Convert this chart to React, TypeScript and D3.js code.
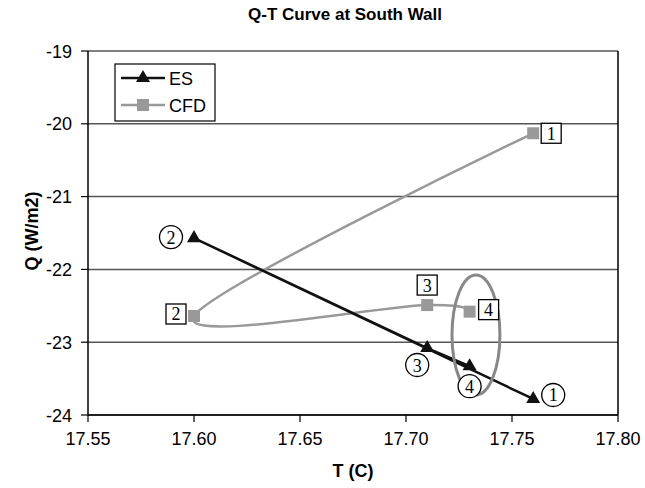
import React from "react";
import * as d3 from "d3";

const pointIds = ["1", "2", "3", "4"];
const esT = [17.76, 17.6, 17.71, 17.73];
const esQ = [-23.78, -21.57, -23.08, -23.33];
const cfdT = [17.76, 17.6, 17.71, 17.73];
const cfdQ = [-20.13, -22.64, -22.49, -22.58];
const xTicks = [17.55, 17.6, 17.65, 17.7, 17.75, 17.8];
const yTicks = [-19, -20, -21, -22, -23, -24];
// annotation ellipse in data units: centre T, centre Q, half-width T, half-height Q
const ellipseT = [17.733, 0.0113];
const ellipseQ = [-22.9, 0.824];

// label offsets (px) for numbered callouts
const esOffsets: [number, number][] = [[20, -4], [-23, -1], [-10, 17], [0, 20]];
const cfdOffsets: [number, number][] = [[18, 0], [-18, -2], [0, -20], [19, -2]];

const W = 645, H = 488;
const M = { left: 88, right: 618, top: 51, bottom: 415 };

export default function App() {
  const x = d3.scaleLinear().domain([17.55, 17.8]).range([M.left, M.right]);
  const y = d3.scaleLinear().domain([-24, -19]).range([M.bottom, M.top]);

  const esPts = esT.map((t, i) => [x(t), y(esQ[i])] as [number, number]);
  const cfdPts = cfdT.map((t, i) => [x(t), y(cfdQ[i])] as [number, number]);

  const straight = d3.line().curve(d3.curveLinear);
  const smooth = d3.line().curve(d3.curveCardinal.tension(0));
  const tri = d3.symbol().type(d3.symbolTriangle).size(85)();

  const font = "Arial, 'Liberation Sans', Helvetica, sans-serif";
  const serif = "'Times New Roman', 'Liberation Serif', serif";

  const ex = x(ellipseT[0]);
  const ey = y(ellipseQ[0]);
  const erx = x(ellipseT[0] + ellipseT[1]) - ex;
  const ery = y(ellipseQ[0] - ellipseQ[1]) - ey;

  return (
    <svg width={W} height={H} style={{ position: "absolute", left: 0, top: 0, background: "#fff" }} fontFamily={font}>
      <rect width={W} height={H} fill="#fff" />
      <text x={345} y={20} textAnchor="middle" fontWeight="bold" fontSize={17}>Q-T Curve at South Wall</text>

      {yTicks.map((v) => (
        <g key={v}>
          <line x1={M.left} x2={M.right} y1={y(v)} y2={y(v)} stroke="#555" strokeWidth={1.5} />
          <line x1={M.left - 7} x2={M.left} y1={y(v)} y2={y(v)} stroke="#000" strokeWidth={1.2} />
          <text x={72} y={y(v) + 6.5} textAnchor="end" fontSize={18}>{v}</text>
        </g>
      ))}
      {xTicks.map((v) => (
        <g key={v}>
          <line x1={x(v)} x2={x(v)} y1={M.bottom} y2={M.bottom + 7} stroke="#000" strokeWidth={1.2} />
          <text x={x(v)} y={445} textAnchor="middle" fontSize={18}>{v.toFixed(2)}</text>
        </g>
      ))}
      <line x1={M.left} x2={M.left} y1={M.top} y2={M.bottom} stroke="#000" strokeWidth={1.5} />
      <line x1={M.right} x2={M.right} y1={M.top} y2={M.bottom} stroke="#000" strokeWidth={1.5} />
      <line x1={M.left} x2={M.right} y1={M.bottom} y2={M.bottom} stroke="#000" strokeWidth={1.5} />

      <text x={353} y={477} textAnchor="middle" fontWeight="bold" fontSize={18}>T (C)</text>
      <text transform={`translate(38,${(M.top + M.bottom) / 2 - 2}) rotate(-90)`} textAnchor="middle" fontWeight="bold" fontSize={18}>Q (W/m2)</text>

      <path d={smooth(cfdPts) || ""} fill="none" stroke="#999" strokeWidth={2.5} />
      <path d={straight(esPts) || ""} fill="none" stroke="#111" strokeWidth={2.5} />

      {cfdPts.map(([px, py], i) => (
        <rect key={"c" + i} x={px - 6} y={py - 6} width={12} height={12} fill="#999" />
      ))}
      {esPts.map(([px, py], i) => (
        <path key={"e" + i} d={tri || ""} transform={`translate(${px},${py})`} fill="#111" />
      ))}

      <ellipse cx={ex} cy={ey} rx={erx} ry={ery} fill="none" stroke="#888" strokeWidth={3} />

      {esPts.map(([px, py], i) => (
        <g key={"el" + i} transform={`translate(${px + esOffsets[i][0]},${py + esOffsets[i][1]})`}>
          <circle r={11.5} fill="#fff" stroke="#000" strokeWidth={1.3} />
          <text y={6.5} textAnchor="middle" fontFamily={serif} fontSize={18}>{pointIds[i]}</text>
        </g>
      ))}
      {cfdPts.map(([px, py], i) => (
        <g key={"cl" + i} transform={`translate(${px + cfdOffsets[i][0]},${py + cfdOffsets[i][1]})`}>
          <rect x={-10} y={-10} width={20} height={20} fill="#fff" stroke="#000" strokeWidth={1.3} />
          <text y={6.5} textAnchor="middle" fontFamily={serif} fontSize={18}>{pointIds[i]}</text>
        </g>
      ))}

      <g>
        <rect x={115} y={64} width={100} height={57} fill="#fff" stroke="#000" strokeWidth={1.2} />
        <line x1={121} x2={165} y1={78} y2={78} stroke="#111" strokeWidth={2.5} />
        <path d={tri || ""} transform="translate(143,78)" fill="#111" />
        <text x={169} y={84.5} fontSize={18}>ES</text>
        <line x1={121} x2={165} y1={105} y2={105} stroke="#999" strokeWidth={2.5} />
        <rect x={137} y={99} width={12} height={12} fill="#999" />
        <text x={169} y={111.5} fontSize={18}>CFD</text>
      </g>
    </svg>
  );
}
